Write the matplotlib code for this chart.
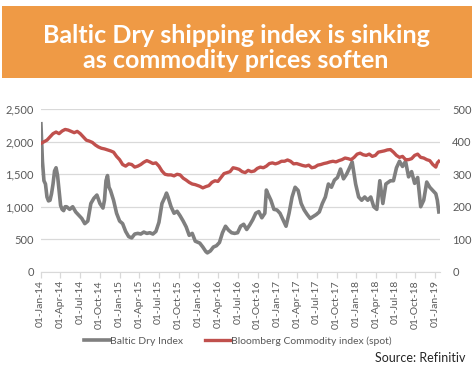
import numpy as np
import pandas as pd
import matplotlib
matplotlib.use("Agg")
import matplotlib.pyplot as plt
import matplotlib.dates as mdates
from matplotlib.patches import Rectangle
from matplotlib.ticker import FuncFormatter

# ── Data ──────────────────────────────────────────────────────────────────────
bdi_dates = [
    "2014-01-02", "2014-01-09", "2014-01-16", "2014-01-23", "2014-01-30", "2014-02-06",
    "2014-02-13", "2014-02-20", "2014-02-27", "2014-03-06", "2014-03-13", "2014-03-20",
    "2014-03-27", "2014-04-03", "2014-04-10", "2014-04-17", "2014-04-24", "2014-05-01",
    "2014-05-15", "2014-05-29", "2014-06-12", "2014-06-26", "2014-07-10", "2014-07-24",
    "2014-08-07", "2014-08-21", "2014-09-04", "2014-09-18", "2014-10-02", "2014-10-16",
    "2014-10-23", "2014-10-30", "2014-11-06", "2014-11-13", "2014-11-20", "2014-12-04",
    "2014-12-18",
    "2015-01-01", "2015-01-15", "2015-01-29", "2015-02-12", "2015-02-26", "2015-03-12",
    "2015-03-26", "2015-04-09", "2015-04-23", "2015-05-07", "2015-05-21", "2015-06-04",
    "2015-06-18", "2015-07-02", "2015-07-16", "2015-07-30", "2015-08-06", "2015-08-13",
    "2015-08-27", "2015-09-10", "2015-09-24", "2015-10-08", "2015-10-22", "2015-11-05",
    "2015-11-19", "2015-12-03", "2015-12-17",
    "2016-01-07", "2016-01-21", "2016-02-04", "2016-02-11", "2016-02-25", "2016-03-10",
    "2016-03-24", "2016-04-07", "2016-04-21", "2016-05-05", "2016-05-19", "2016-06-02",
    "2016-06-16", "2016-06-30", "2016-07-14", "2016-07-28", "2016-08-11", "2016-08-25",
    "2016-09-08", "2016-09-22", "2016-10-06", "2016-10-20", "2016-11-03", "2016-11-10",
    "2016-11-17", "2016-12-01", "2016-12-15", "2016-12-29",
    "2017-01-12", "2017-01-26", "2017-02-09", "2017-02-23", "2017-03-09", "2017-03-23",
    "2017-04-06", "2017-04-20", "2017-05-04", "2017-05-18", "2017-06-01", "2017-06-15",
    "2017-06-29", "2017-07-13", "2017-07-27", "2017-08-10", "2017-08-24", "2017-09-07",
    "2017-09-21", "2017-10-05", "2017-10-19", "2017-11-02", "2017-11-16", "2017-11-30",
    "2017-12-12", "2017-12-28",
    "2018-01-11", "2018-01-25", "2018-02-08", "2018-02-22", "2018-03-08", "2018-03-22",
    "2018-04-05", "2018-04-19", "2018-05-03", "2018-05-17", "2018-06-07", "2018-06-21",
    "2018-07-05", "2018-07-19", "2018-08-02", "2018-08-16", "2018-08-30", "2018-09-13",
    "2018-09-27", "2018-10-11", "2018-10-25", "2018-11-08", "2018-11-22", "2018-12-06",
    "2018-12-20",
    "2019-01-03", "2019-01-10", "2019-01-17",
]
bdi_values = [
    2277, 1700, 1400, 1350, 1150, 1090,
    1100, 1200, 1350, 1550, 1600, 1480,
    1250, 1020, 960, 940, 1000, 1000,
    960, 1000, 920, 870, 820, 740,
    780, 1050, 1130, 1180, 1050, 980,
    1100, 1400, 1480, 1300, 1250, 1100,
    900,
    780, 740, 620, 540, 520, 580,
    590, 580, 610, 590, 600, 580,
    620, 760, 1050, 1150, 1210, 1150,
    1000, 900, 930, 860, 780, 690,
    560, 590, 470,
    440, 380, 310, 290, 320, 380,
    400, 450, 600, 700, 640, 600,
    590, 600, 700, 730, 650, 720,
    800, 900, 925, 830, 900, 1257,
    1200, 1100, 960, 950,
    900, 800, 700, 900, 1150, 1300,
    1250, 1050, 950, 880, 820, 850,
    880, 920, 1050, 1150, 1350, 1300,
    1410, 1450, 1580, 1430, 1500, 1600,
    1690, 1350,
    1150, 1100, 1150, 1100, 1150, 1000,
    960, 1400, 1050, 1350, 1400, 1400,
    1600, 1700, 1620, 1700, 1460, 1540,
    1360, 1450, 1000, 1100, 1380, 1300,
    1250,
    1200, 1100, 920,
]

bcom_dates = [
    "2014-01-02", "2014-01-16", "2014-01-30", "2014-02-13", "2014-02-27", "2014-03-13",
    "2014-03-27", "2014-04-10", "2014-04-24", "2014-05-08", "2014-05-22", "2014-06-05",
    "2014-06-19", "2014-07-03", "2014-07-17", "2014-07-31", "2014-08-14", "2014-08-28",
    "2014-09-11", "2014-09-25", "2014-10-09", "2014-10-23", "2014-11-06", "2014-11-20",
    "2014-12-04", "2014-12-18",
    "2015-01-01", "2015-01-15", "2015-01-29", "2015-02-12", "2015-02-26", "2015-03-12",
    "2015-03-26", "2015-04-09", "2015-04-23", "2015-05-07", "2015-05-21", "2015-06-04",
    "2015-06-18", "2015-07-02", "2015-07-16", "2015-07-30", "2015-08-13", "2015-08-27",
    "2015-09-10", "2015-09-24", "2015-10-08", "2015-10-22", "2015-11-05", "2015-11-19",
    "2015-12-03", "2015-12-17",
    "2016-01-07", "2016-01-21", "2016-02-04", "2016-02-18", "2016-03-03", "2016-03-17",
    "2016-03-31", "2016-04-14", "2016-04-28", "2016-05-12", "2016-05-26", "2016-06-09",
    "2016-06-23", "2016-07-07", "2016-07-21", "2016-08-04", "2016-08-18", "2016-09-01",
    "2016-09-15", "2016-09-29", "2016-10-13", "2016-10-27", "2016-11-10", "2016-11-24",
    "2016-12-08", "2016-12-22",
    "2017-01-05", "2017-01-19", "2017-02-02", "2017-02-16", "2017-03-02", "2017-03-16",
    "2017-03-30", "2017-04-13", "2017-04-27", "2017-05-11", "2017-05-25", "2017-06-08",
    "2017-06-22", "2017-07-06", "2017-07-20", "2017-08-03", "2017-08-17", "2017-08-31",
    "2017-09-14", "2017-09-28", "2017-10-12", "2017-10-26", "2017-11-09", "2017-11-23",
    "2017-12-07", "2017-12-21",
    "2018-01-04", "2018-01-18", "2018-02-01", "2018-02-15", "2018-03-01", "2018-03-15",
    "2018-03-29", "2018-04-12", "2018-04-26", "2018-05-10", "2018-05-24", "2018-06-07",
    "2018-06-21", "2018-07-05", "2018-07-19", "2018-08-02", "2018-08-16", "2018-08-30",
    "2018-09-13", "2018-09-27", "2018-10-11", "2018-10-25", "2018-11-08", "2018-11-22",
    "2018-12-06", "2018-12-20",
    "2019-01-03", "2019-01-10", "2019-01-17",
]
bcom_values = [
    395, 400, 405, 415, 425, 430,
    425, 433, 438, 436, 432, 428,
    432, 425, 415, 405, 402, 398,
    390, 384, 380, 378, 375, 372,
    368, 355,
    345, 330, 325, 332, 330, 322,
    325, 330, 337, 342, 338, 333,
    335, 325, 310, 300, 298, 298,
    295, 300, 298, 288, 282, 275,
    270, 268,
    263, 258, 262, 265, 275, 280,
    278, 290, 302, 305, 308, 320,
    318, 315, 308, 305, 312, 308,
    310, 318, 322, 320, 325, 333,
    335, 332,
    335, 340, 340, 344, 340, 332,
    333, 330, 327, 325, 328, 320,
    322, 328, 330, 333, 335, 338,
    340, 338, 342, 345, 350, 348,
    345, 352,
    362, 365, 360, 358, 362, 355,
    358, 368, 370, 372, 375, 376,
    368, 358, 352, 355, 345, 345,
    348, 358, 362, 352, 350, 345,
    342, 330,
    322, 335, 340,
]

title_lines = ["Baltic Dry shipping index is sinking", "as commodity prices soften"]
series_names = ["Baltic Dry Index", "Bloomberg Commodity index (spot)"]
source_text = "Source: Refinitiv"

bdi = pd.Series(bdi_values, index=pd.to_datetime(bdi_dates))
bcom = pd.Series(bcom_values, index=pd.to_datetime(bcom_dates))

# ── Style ─────────────────────────────────────────────────────────────────────
GREY = "#7F7F7F"
RED = "#C0504D"
ORANGE = "#EF9A45"
TXT = "#595959"
GRID = "#D9D9D9"
plt.rcParams["font.family"] = ["Lato", "DejaVu Sans"]

fig = plt.figure(figsize=(4.75, 3.74), dpi=100)

# Title banner
fig.patches.append(Rectangle((0.005, 0.792), 0.988, 0.192, transform=fig.transFigure,
                             facecolor=ORANGE, edgecolor="none", zorder=0))
fig.text(0.497, 0.906, title_lines[0], ha="center", va="center",
         color="white", fontsize=18, fontweight="bold")
fig.text(0.497, 0.837, title_lines[1], ha="center", va="center",
         color="white", fontsize=18, fontweight="bold")

ax = fig.add_axes([0.0857, 0.2735, 0.840, 0.4343])
ax2 = ax.twinx()

ax.plot(bdi.index, bdi.values, color=GREY, lw=2.6, solid_joinstyle="round",
        label=series_names[0], zorder=3)
ax2.plot(bcom.index, bcom.values, color=RED, lw=2.4, solid_joinstyle="round",
         label=series_names[1], zorder=2)

ax.set_ylim(0, 2500)
ax2.set_ylim(0, 500)
ax.set_yticks(np.arange(0, 2501, 500))
ax2.set_yticks(np.arange(0, 501, 100))
ax.yaxis.set_major_formatter(FuncFormatter(lambda v, p: f"{v:,.0f}"))
ax.set_xlim(pd.Timestamp("2014-01-01"), pd.Timestamp("2019-01-21"))

ticks = pd.date_range("2014-01-01", "2019-01-01", freq="3MS")
ax.set_xticks(ticks)
ax.xaxis.set_major_formatter(mdates.DateFormatter("%d-%b-%y"))
for lab in ax.get_xticklabels():
    lab.set_rotation(90)

ax.grid(axis="y", color=GRID, lw=0.9)
ax.set_axisbelow(True)
for a in (ax, ax2):
    for s in ("top", "left", "right", "bottom"):
        a.spines[s].set_visible(False)
ax.spines["bottom"].set_visible(True)
ax.spines["bottom"].set_color(GRID)
ax.tick_params(axis="x", colors=GRID, length=4, width=0.9, labelcolor=TXT,
               labelsize=7.5, pad=2)
ax.tick_params(axis="y", length=0, labelcolor=TXT, labelsize=8, pad=5)
ax2.tick_params(axis="y", length=0, labelcolor=TXT, labelsize=8, pad=9)

h1, l1 = ax.get_legend_handles_labels()
h2, l2 = ax2.get_legend_handles_labels()
fig.legend(h1 + h2, l1 + l2, loc="center", bbox_to_anchor=(0.50, 0.088),
           ncol=2, frameon=False, fontsize=7.5, handlelength=2.5, handletextpad=0.0,
           columnspacing=2.1, labelcolor=TXT)

fig.text(0.98, 0.043, source_text, ha="right", va="center", fontsize=9, color="#262626")

fig.savefig("out.png", dpi=100)
